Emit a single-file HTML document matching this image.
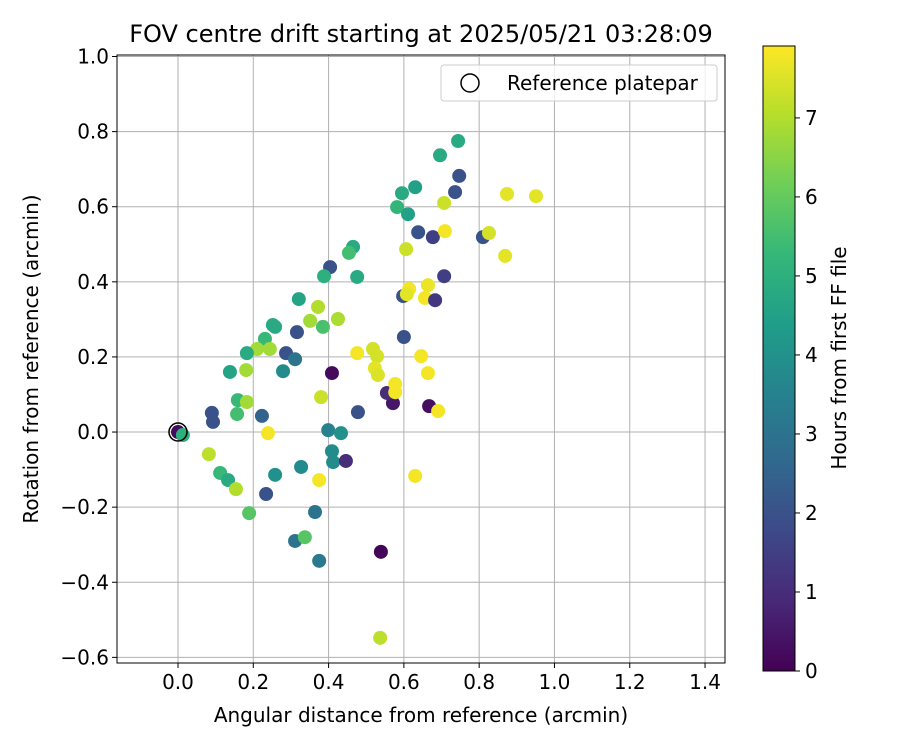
<!DOCTYPE html>
<html><head><meta charset="utf-8"><style>
body{margin:0;background:#fff;}
svg{display:block;font-family:"DejaVu Sans","Liberation Sans",sans-serif;}
</style></head><body>
<svg id="chart" width="900" height="750" viewBox="0 0 900 750" xmlns="http://www.w3.org/2000/svg">
<defs>
<linearGradient id="vir" x1="0" y1="1" x2="0" y2="0">
<stop offset="0" stop-color="#440154"/><stop offset="0.111" stop-color="#482878"/><stop offset="0.222" stop-color="#3e4989"/><stop offset="0.333" stop-color="#31688e"/><stop offset="0.444" stop-color="#26828e"/><stop offset="0.556" stop-color="#1f9e89"/><stop offset="0.667" stop-color="#35b779"/><stop offset="0.778" stop-color="#6ece58"/><stop offset="0.889" stop-color="#b5de2b"/><stop offset="1" stop-color="#fde725"/>
</linearGradient>
</defs>
<text x="421" y="42" font-size="24" text-anchor="middle">FOV centre drift starting at 2025/05/21 03:28:09</text>
<g id="grid"></g>
<g id="points"></g>
<rect x="117" y="55" width="608" height="608" fill="none" stroke="#000" stroke-width="1"/>
<g id="ticks"></g>
<text x="421" y="722" font-size="20" text-anchor="middle">Angular distance from reference (arcmin)</text>
<text transform="translate(38,359) rotate(-90)" font-size="20" text-anchor="middle">Rotation from reference (arcmin)</text>
<g>
<rect x="441" y="65" width="276" height="36" rx="3" fill="#fff" fill-opacity="0.8" stroke="#ccc"/>
<circle cx="470" cy="83" r="9" fill="none" stroke="#000" stroke-width="1.5"/>
<text x="507" y="90" font-size="20">Reference platepar</text>
</g>
<rect x="763" y="46" width="32" height="625" fill="url(#vir)" stroke="#000" stroke-width="1"/>
<g id="cticks"></g>
<text transform="translate(846,358) rotate(-90)" font-size="20" text-anchor="middle">Hours from first FF file</text>
</svg>
<script>
const xVals=[0,0.013,0.465,0.454,0.404,0.388,0.476,0.321,0.372,0.351,0.425,0.385,0.316,0.252,0.258,0.231,0.210,0.244,0.183,0.287,0.311,0.138,0.181,0.279,0.409,0.476,0.518,0.529,0.523,0.531,0.159,0.183,0.157,0.090,0.093,0.223,0.380,0.478,0.239,0.399,0.433,0.082,0.409,0.412,0.446,0.112,0.133,0.154,0.258,0.327,0.234,0.189,0.375,0.364,0.311,0.337,0.375,0.539,0.537,0.630,0.571,0.667,0.691,0.555,0.577,0.577,0.646,0.664,0.600,0.606,0.638,0.677,0.709,0.810,0.826,0.707,0.664,0.614,0.598,0.608,0.656,0.683,0.696,0.744,0.630,0.595,0.582,0.611,0.707,0.736,0.747,0.874,0.951,0.869];
const yVals=[0,-0.008,0.493,0.477,0.439,0.415,0.413,0.354,0.333,0.296,0.301,0.280,0.266,0.285,0.280,0.248,0.221,0.221,0.210,0.210,0.194,0.160,0.165,0.162,0.157,0.210,0.221,0.202,0.170,0.152,0.085,0.080,0.048,0.051,0.027,0.043,0.093,0.053,-0.003,0.005,-0.003,-0.059,-0.051,-0.080,-0.077,-0.109,-0.128,-0.152,-0.114,-0.093,-0.165,-0.216,-0.128,-0.213,-0.290,-0.280,-0.343,-0.319,-0.548,-0.117,0.077,0.069,0.056,0.104,0.128,0.106,0.202,0.157,0.253,0.487,0.532,0.519,0.535,0.519,0.530,0.415,0.391,0.381,0.362,0.367,0.357,0.351,0.737,0.775,0.652,0.636,0.599,0.580,0.610,0.639,0.682,0.634,0.628,0.469];
const hours=[0.2,5,4.8,5.5,2,5,4.8,4.6,7,6.8,6.9,5.6,2,4.8,4.8,5.3,6.8,6.8,4.8,2,3,4.6,6.8,3.8,0.2,7.8,7.4,7.4,7.6,7.5,5.3,6.8,5.5,2,2,2.5,7.3,2,7.8,3.5,4,7.1,3.8,3.8,1,5.3,4.8,7,4,3.8,2,5.8,7.8,3,3,5.8,3.2,0.1,7.1,7.8,0.5,0.3,7.8,1,7.8,7.8,7.8,7.8,2,7.3,2,1.5,7.8,2,7.4,1.5,7.7,7.8,2,7.6,7.8,1.3,4.8,4.8,4.5,4.8,5.2,4.5,7.3,2,2,7.6,7.6,7.6];
const xTicks=[0,0.2,0.4,0.6,0.8,1.0,1.2,1.4];
const yTicks=[-0.6,-0.4,-0.2,0,0.2,0.4,0.6,0.8,1.0];
const cTicks=[0,1,2,3,4,5,6,7];
const NS="http://www.w3.org/2000/svg";
const L=117,R=725,T=55,B=663,xmin=-0.162,xmax=1.453,ymin=-0.615,ymax=1.004;
const sx=v=>L+(v-xmin)/(xmax-xmin)*(R-L);
const sy=v=>B-(v-ymin)/(ymax-ymin)*(B-T);
const cmax=7.91,sc=v=>671-v/cmax*625;
const vir=[[68,1,84],[72,40,120],[62,73,137],[49,104,142],[38,130,142],[31,158,137],[53,183,121],[110,206,88],[181,222,43],[253,231,37]];
function col(h){let t=Math.max(0,Math.min(1,h/cmax))*(vir.length-1);let i=Math.min(vir.length-2,Math.floor(t)),f=t-i;
const c=vir[i].map((a,k)=>Math.round(a+(vir[i+1][k]-a)*f));return `rgb(${c[0]},${c[1]},${c[2]})`;}
function mk(tag,attrs,parent){const e=document.createElementNS(NS,tag);for(const k in attrs)e.setAttribute(k,attrs[k]);parent.appendChild(e);return e;}
const grid=document.getElementById('grid'),ticks=document.getElementById('ticks'),pts=document.getElementById('points'),ct=document.getElementById('cticks');
xTicks.forEach(v=>{const x=sx(v);
const g=mk('line',{x1:x,x2:x,y1:T,y2:B,stroke:'#b0b0b0','stroke-width':1},grid);

mk('line',{x1:x,x2:x,y1:B,y2:B+5,stroke:'#000'},ticks);
const t=mk('text',{x:x,y:B+26,'font-size':20,'text-anchor':'middle'},ticks);t.textContent=v.toFixed(1);
});
yTicks.forEach(v=>{const y=sy(v);
const g=mk('line',{x1:L,x2:R,y1:y,y2:y,stroke:'#b0b0b0','stroke-width':1},grid);

mk('line',{x1:L-5,x2:L,y1:y,y2:y,stroke:'#000'},ticks);
const t=mk('text',{x:L-8,y:y+7,'font-size':20,'text-anchor':'end'},ticks);t.textContent=(v<0?'\u2212':'')+Math.abs(v).toFixed(1);
});
xVals.forEach((xv,i)=>{const c=mk('circle',{cx:sx(xv),cy:sy(yVals[i]),r:7,fill:col(hours[i])},pts);
});
const ref=mk('circle',{cx:sx(0),cy:sy(0),r:9,fill:'none',stroke:'#000','stroke-width':1.5},pts);

cTicks.forEach(v=>{const y=sc(v);mk('line',{x1:795,x2:800,y1:y,y2:y,stroke:'#000'},ct);
const t=mk('text',{x:805,y:y+7,'font-size':20},ct);t.textContent=v;
});
</script>
</body></html>
